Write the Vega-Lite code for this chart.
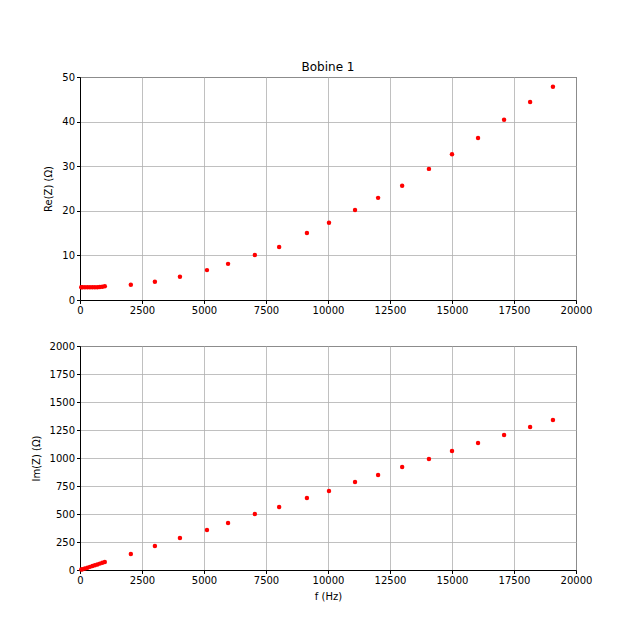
{
  "$schema": "https://vega.github.io/schema/vega-lite/v6.json",
  "padding": {"left": 30, "top": 60, "right": 5, "bottom": 5},
  "spacing": 24,
  "config": {
    "font": "DejaVu Sans",
    "view": {"stroke": "black", "strokeWidth": 1},
    "axis": {
      "labelFont": "DejaVu Sans", "labelFontSize": 10, "labelColor": "black", "labelFlush": false,
      "titleFont": "DejaVu Sans", "titleFontSize": 10, "titleFontWeight": "normal", "titleColor": "black",
      "domainColor": "black", "tickColor": "black", "tickSize": 3.5, "labelPadding": 2,
      "gridColor": "#b0b0b0", "gridWidth": 0.8, "gridOpacity": 1
    },
    "axisY": {"titlePadding": 8},
    "axisX": {"titlePadding": 6},
    "title": {"font": "DejaVu Sans", "fontSize": 12, "fontWeight": "normal", "color": "black", "offset": -2}
  },
  "data": {"values": [
    {"f": 50, "re": 2.85, "im": 3.5},
    {"f": 100, "re": 2.85, "im": 7},
    {"f": 200, "re": 2.85, "im": 14},
    {"f": 300, "re": 2.85, "im": 21},
    {"f": 400, "re": 2.85, "im": 28},
    {"f": 500, "re": 2.86, "im": 35},
    {"f": 600, "re": 2.87, "im": 42},
    {"f": 700, "re": 2.88, "im": 50},
    {"f": 800, "re": 2.9, "im": 57},
    {"f": 900, "re": 2.95, "im": 64},
    {"f": 1000, "re": 3.1, "im": 71},
    {"f": 2050, "re": 3.4, "im": 143},
    {"f": 3020, "re": 4.1, "im": 214},
    {"f": 4030, "re": 5.2, "im": 286},
    {"f": 5120, "re": 6.7, "im": 357},
    {"f": 5970, "re": 8.1, "im": 420},
    {"f": 7050, "re": 10.1, "im": 500},
    {"f": 8030, "re": 11.9, "im": 562},
    {"f": 9150, "re": 15.0, "im": 643},
    {"f": 10040, "re": 17.3, "im": 705},
    {"f": 11090, "re": 20.2, "im": 786},
    {"f": 12020, "re": 22.9, "im": 848},
    {"f": 12990, "re": 25.6, "im": 920},
    {"f": 14070, "re": 29.4, "im": 991},
    {"f": 15000, "re": 32.7, "im": 1063},
    {"f": 16050, "re": 36.3, "im": 1134},
    {"f": 17100, "re": 40.4, "im": 1205},
    {"f": 18150, "re": 44.4, "im": 1277},
    {"f": 19070, "re": 47.8, "im": 1339}
  ]},
  "vconcat": [
    {
      "title": "Bobine 1",
      "width": 496, "height": 223,
      "mark": {"type": "point", "filled": true, "color": "red", "opacity": 1, "size": 20},
      "encoding": {
        "x": {"field": "f", "type": "quantitative", "title": null,
              "scale": {"domain": [0, 20000], "nice": false},
              "axis": {"values": [0, 2500, 5000, 7500, 10000, 12500, 15000, 17500, 20000], "format": "d"}},
        "y": {"field": "re", "type": "quantitative", "title": "Re(Z) (Ω)",
              "scale": {"domain": [0, 50], "nice": false},
              "axis": {"values": [0, 10, 20, 30, 40, 50], "format": "d"}}
      }
    },
    {
      "width": 496, "height": 224,
      "mark": {"type": "point", "filled": true, "color": "red", "opacity": 1, "size": 20},
      "encoding": {
        "x": {"field": "f", "type": "quantitative", "title": "f (Hz)",
              "scale": {"domain": [0, 20000], "nice": false},
              "axis": {"values": [0, 2500, 5000, 7500, 10000, 12500, 15000, 17500, 20000], "format": "d"}},
        "y": {"field": "im", "type": "quantitative", "title": "Im(Z) (Ω)",
              "scale": {"domain": [0, 2000], "nice": false},
              "axis": {"values": [0, 250, 500, 750, 1000, 1250, 1500, 1750, 2000], "format": "d"}}
      }
    }
  ]
}
